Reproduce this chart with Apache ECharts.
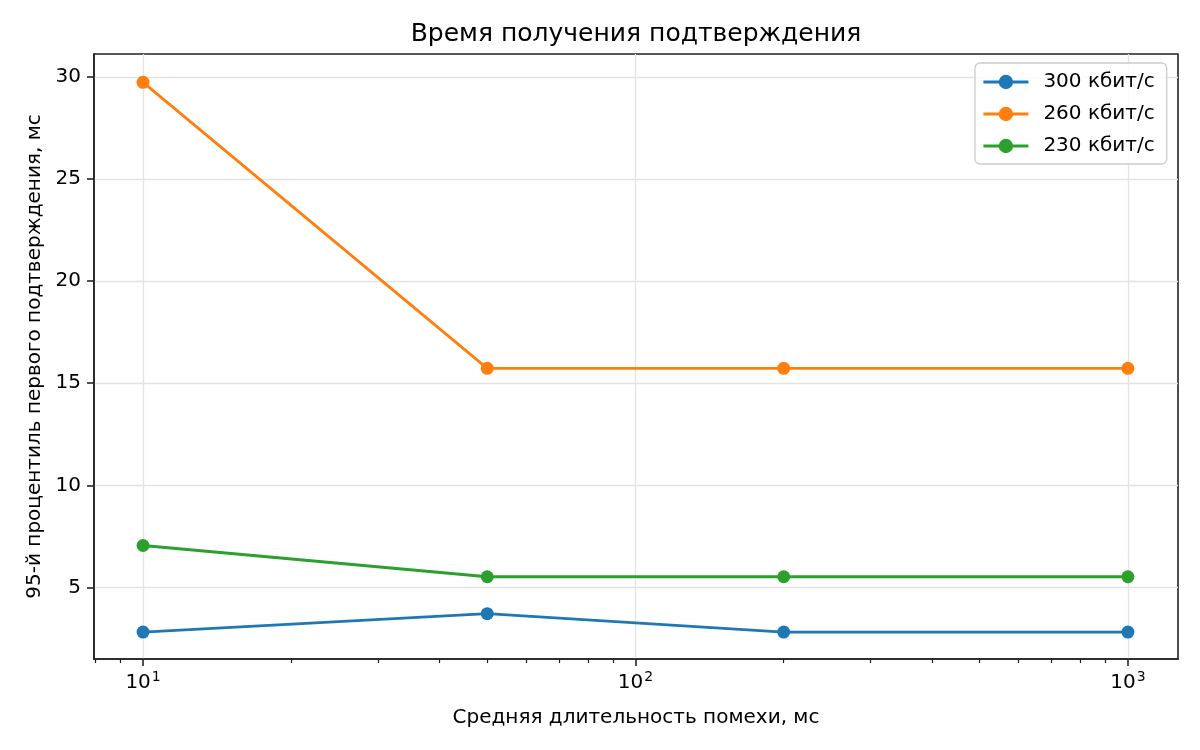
<html>
<head>
<meta charset="utf-8">
<title>Время получения подтверждения</title>
<script src="https://cdn.jsdelivr.net/npm/echarts@6/dist/echarts.min.js"></script>
<style>
  html, body { margin: 0; padding: 0; background: #fff; }
  #main { width: 1200px; height: 750px; }
</style>
</head>
<body>
<div id="main"></div>
<script type="text/javascript">
// данные с графика
var durations = [10, 50, 200, 1000];            // средняя длительность помехи, мс
var rate300 = [2.81, 3.71, 2.81, 2.81];
var rate260 = [29.74, 15.73, 15.73, 15.73];
var rate230 = [7.05, 5.52, 5.52, 5.52];
var seriesNames = ['300 кбит/с', '260 кбит/с', '230 кбит/с'];
var majorTicksX = [10, 100, 1000];
var minorTicksX = [8, 9, 20, 30, 40, 50, 60, 70, 80, 90, 200, 300, 400, 500, 600, 700, 800, 900];
var ticksY = [5, 10, 15, 20, 25, 30];

var colors = ['#1f77b4', '#ff7f0e', '#2ca02c'];
var font = 'DejaVu Sans';

function pairs(ys) {
    return durations.map(function (x, i) { return [x, ys[i]]; });
}

function makeSeries(name, ys, color) {
    return {
        name: name,
        type: 'line',
        xAxisIndex: 0,
        data: pairs(ys),
        symbol: 'circle',
        symbolSize: 13,
        color: color,
        lineStyle: { width: 2.8, color: color },
        itemStyle: { color: color },
        emphasis: { disabled: true }
    };
}

var myChart = echarts.init(document.getElementById('main'));
myChart.setOption({
    animation: false,
    backgroundColor: '#fff',
    textStyle: { fontFamily: font, color: '#000' },
    title: {
        text: 'Время получения подтверждения',
        left: 631,
        textAlign: 'center',
        top: 17,
        textStyle: { fontFamily: font, fontSize: 25, fontWeight: 'normal', color: '#000' }
    },
    legend: {
        data: seriesNames,
        orient: 'vertical',
        left: 975,
        top: 63,
        itemWidth: 45,
        itemHeight: 18,
        itemGap: 12,
        padding: [9, 12, 8, 7],
        backgroundColor: 'rgba(255,255,255,0.8)',
        borderColor: '#cccccc',
        borderWidth: 1.3,
        borderRadius: 5,
        lineStyle: { width: 2.8 },
        textStyle: { fontFamily: font, fontSize: 20, color: '#000', padding: [0, 0, 0, 10] }
    },
    grid: {
        left: 94, right: 22, top: 54, bottom: 91,
        show: true,
        borderColor: '#222',
        borderWidth: 1.6,
        backgroundColor: 'transparent'
    },
    xAxis: [{
        type: 'log',
        logBase: 10,
        min: 7.95,
        max: 1264,
        name: 'Средняя длительность помехи, мс',
        nameLocation: 'middle',
        nameGap: 49,
        nameTextStyle: { fontFamily: font, fontSize: 20, color: '#000' },
        axisLine: { show: true, lineStyle: { color: '#222', width: 1.6 } },
        axisTick: { show: true, length: 7, lineStyle: { color: '#222', width: 1.6 }, customValues: majorTicksX },
        axisLabel: {
            margin: 11,
            customValues: majorTicksX,
            formatter: function (v) {
                var e = Math.round(Math.log10(v));
                if (Math.abs(Math.log10(v) - e) > 1e-6) return '';
                return '{b|10}{s|' + e + '}';
            },
            rich: {
                b: { fontFamily: font, fontSize: 20, color: '#000', verticalAlign: 'bottom' },
                s: { fontFamily: font, fontSize: 14, color: '#000', verticalAlign: 'bottom', padding: [0, 0, 9, 1] }
            }
        },
        splitLine: { show: true, lineStyle: { color: '#e3e3e3', width: 1.3 } }
    }, {
        type: 'log',
        logBase: 10,
        min: 7.95,
        max: 1264,
        position: 'bottom',
        axisLine: { show: false },
        axisLabel: { show: false },
        splitLine: { show: false },
        axisTick: { show: true, length: 4, lineStyle: { color: '#222', width: 1.2 }, customValues: minorTicksX }
    }],
    yAxis: {
        type: 'value',
        min: 1.49,
        max: 31.13,
        name: '95-й процентиль первого подтверждения, мс',
        nameLocation: 'middle',
        nameGap: 48,
        nameRotate: 90,
        nameTextStyle: { fontFamily: font, fontSize: 20, color: '#000' },
        axisLine: { show: true, lineStyle: { color: '#222', width: 1.6 } },
        axisTick: { show: true, length: 7, lineStyle: { color: '#222', width: 1.6 }, customValues: ticksY },
        axisLabel: {
            margin: 13,
            customValues: ticksY,
            fontFamily: font, fontSize: 20, color: '#000'
        },
        splitLine: { show: true, lineStyle: { color: '#e3e3e3', width: 1.3 } }
    },
    series: [
        makeSeries(seriesNames[0], rate300, colors[0]),
        makeSeries(seriesNames[1], rate260, colors[1]),
        makeSeries(seriesNames[2], rate230, colors[2])
    ]
});
</script>
</body>
</html>
